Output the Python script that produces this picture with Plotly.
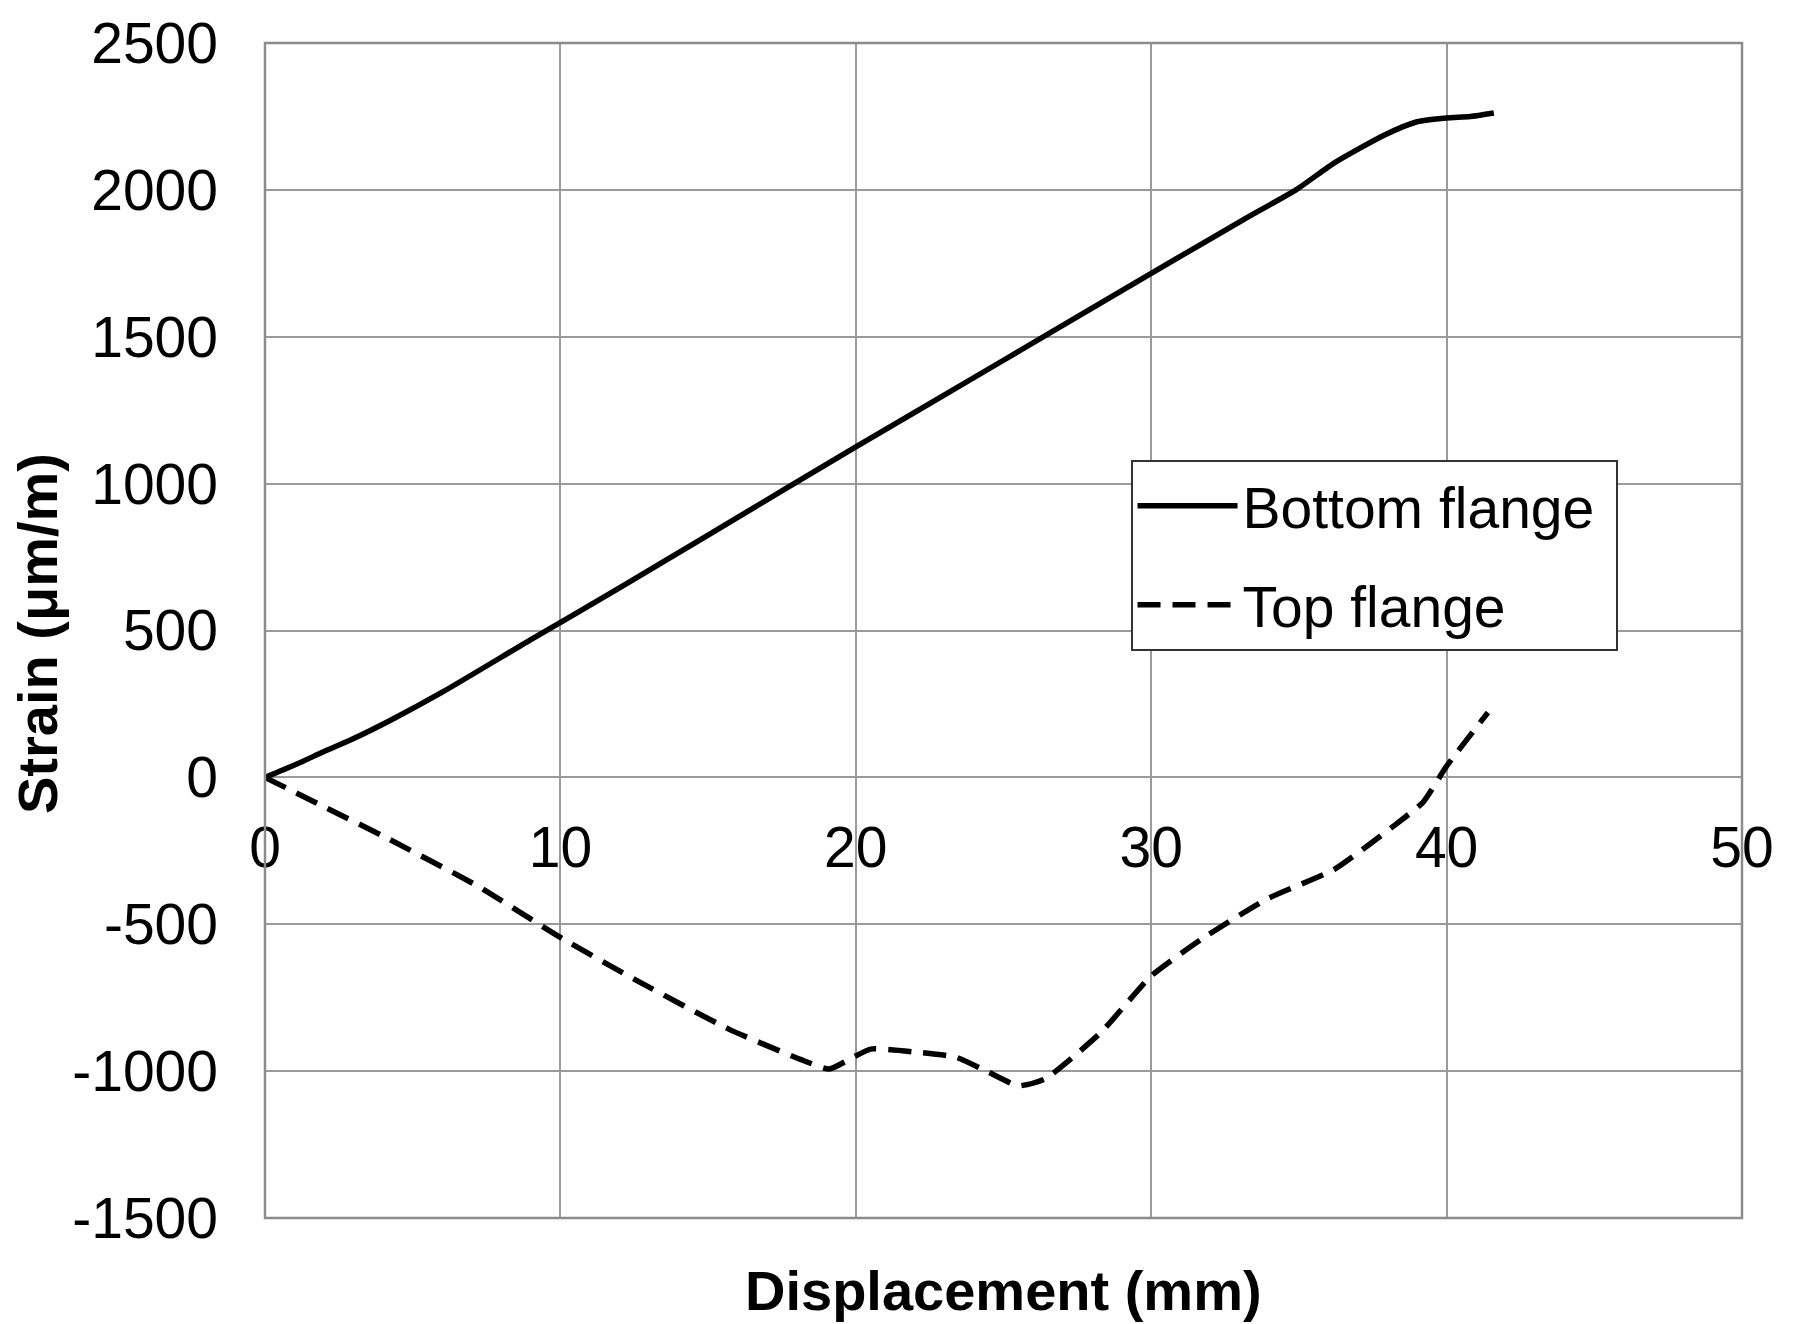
import plotly.graph_objects as go

# Data
bottom_x = [0, 1, 2, 3, 4.3, 6, 9, 12, 15, 20, 25, 30, 33.3, 34.9, 36.2, 37.9, 39, 40, 40.8, 41.6]
bottom_y = [0, 42, 88, 132, 197, 290, 469, 645, 825, 1125, 1420, 1716, 1909, 2000, 2092, 2187, 2232, 2245, 2250, 2262]

top_x = [0, 2, 4, 7.2, 10, 12.7, 15.7, 18.1, 19.1, 19.8, 20.5, 22.1, 23.4, 24.5, 25.5, 26.4,
         28.3, 30, 31.7, 33.9, 36.2, 38.2, 39.2, 40, 41.4]
top_y = [0, -100, -200, -370, -545, -698, -857, -959, -993, -959, -925, -936, -953, -1004, -1050, -1027,
         -868, -676, -551, -415, -313, -166, -85, 38, 221]

series_names = ["Bottom flange", "Top flange"]
x_ticks = [0, 10, 20, 30, 40, 50]
y_ticks = [-1500, -1000, -500, 0, 500, 1000, 1500, 2000, 2500]
y_tick_text = ["-1500", "-1000", "-500", "0", "500", "1000", "1500", "2000", "2500"]

FONT = "Arial, Liberation Sans, sans-serif"
GRID = "#9a9a9a"

fig = go.Figure()
fig.add_trace(go.Scatter(x=bottom_x, y=bottom_y, mode="lines",
                         name=series_names[0] + "&nbsp;", legendgroup="a",
                         line=dict(color="black", width=5.5, shape="spline", smoothing=0.6)))
fig.add_trace(go.Scatter(x=top_x, y=top_y, mode="lines",
                         name=series_names[1], legendgroup="b",
                         line=dict(color="black", width=5.5, dash="23px,12px", shape="spline", smoothing=0.5)))

y_min, y_max = -1500, 2500
fig.update_layout(
    width=1796, height=1324,
    margin=dict(l=265, r=54, t=43, b=106),
    paper_bgcolor="white", plot_bgcolor="white",
    font=dict(family=FONT, color="black", size=57),
    showlegend=True,
    legend=dict(x=0.586, y=0.645, xanchor="left", yanchor="top",
                bgcolor="white", bordercolor="#333", borderwidth=2,
                font=dict(size=57, family=FONT), itemwidth=100,
                tracegroupgap=22),
    xaxis=dict(range=[0, 50], tickvals=x_ticks, showgrid=True, gridcolor=GRID, gridwidth=2,
               zeroline=False, showline=False, ticks="",
               anchor="free", position=(0 - y_min) / (y_max - y_min),
               ticklabelstandoff=32, tickfont=dict(size=57, family=FONT)),
    yaxis=dict(range=[y_min, y_max], tickvals=y_ticks, ticktext=y_tick_text,
               showgrid=True, gridcolor=GRID, gridwidth=2,
               zeroline=True, zerolinecolor=GRID, zerolinewidth=2, showline=False, ticks="",
               ticklabelstandoff=46, tickfont=dict(size=57, family=FONT)),
    shapes=[dict(type="rect", xref="x domain", yref="y domain", x0=0, x1=1, y0=0, y1=1,
                 line=dict(color="#8c8c8c", width=2.5), layer="above")],
    annotations=[
        dict(text="<b>Displacement (mm)</b>", xref="paper", yref="paper",
             x=0.5, y=(1324 - 106 - 1290) / (1324 - 106 - 43), xanchor="center", yanchor="middle",
             showarrow=False, font=dict(size=56, family=FONT)),
        dict(text="<b>Strain (μm/m)</b>", xref="paper", yref="paper",
             x=(37 - 265) / 1477, y=(1218 - 634) / 1175, xanchor="center", yanchor="middle",
             textangle=-90, showarrow=False, font=dict(size=56, family=FONT)),
    ],
)

fig.write_html("out.html")
